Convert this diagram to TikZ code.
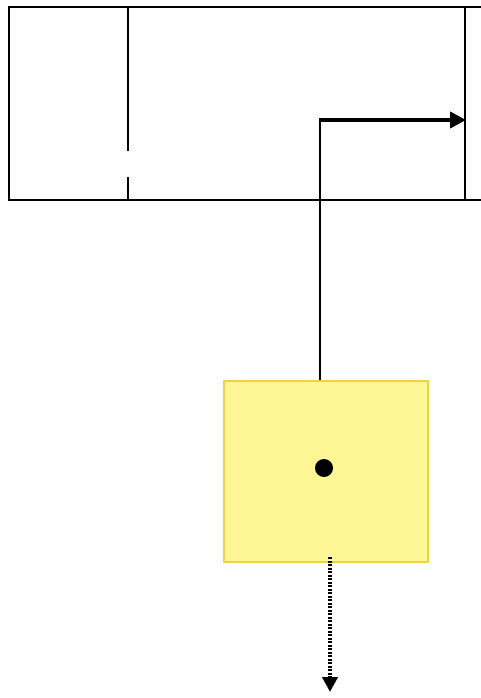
\documentclass[tikz,border=0pt]{standalone}
\usetikzlibrary{arrows.meta}
\definecolor{boxfill}{RGB}{255,246,150}
\definecolor{boxline}{RGB}{245,205,70}
\tikzset{
  thinline/.style={line width=1.1pt,black},
  thickarrow/.style={line width=4pt,-{Triangle[length=16pt,width=16pt]}},
  dotarrow/.style={line width=4.5pt,dash pattern=on 2pt off 1.5pt,-{Triangle[length=15pt,width=15pt]}},
  ybox/.style={draw=boxline,line width=2pt,fill=boxfill,minimum width=204pt,minimum height=181pt,inner sep=0pt},
  dot/.style={circle,fill=black,minimum size=18pt,inner sep=0pt}
}
\begin{document}
\begin{tikzpicture}[x=1pt,y=-1pt]
\useasboundingbox (0,0) rectangle (481,698);
% top frame
\draw[thinline] (481,7) -- (9,7) -- (9,200) -- (481,200);
\draw[thinline] (128,7) -- (128,151);
\draw[thinline] (128,177) -- (128,200);
\draw[thinline] (465,7) -- (465,200);
% yellow box
\node[ybox] (box) at (326,471.5) {};
\node[dot] (d) at (324,468) {};
\coordinate (a0) at (319,120);
\coordinate (a1) at (466,120);
\draw[thickarrow] (a0) -- (a1);
\draw[thinline] (320,120) -- (320,380);
\coordinate (b0) at (330,557);
\coordinate (b1) at (330,692);
\draw[dotarrow] (b0) -- (b1);
\end{tikzpicture}
\end{document}
